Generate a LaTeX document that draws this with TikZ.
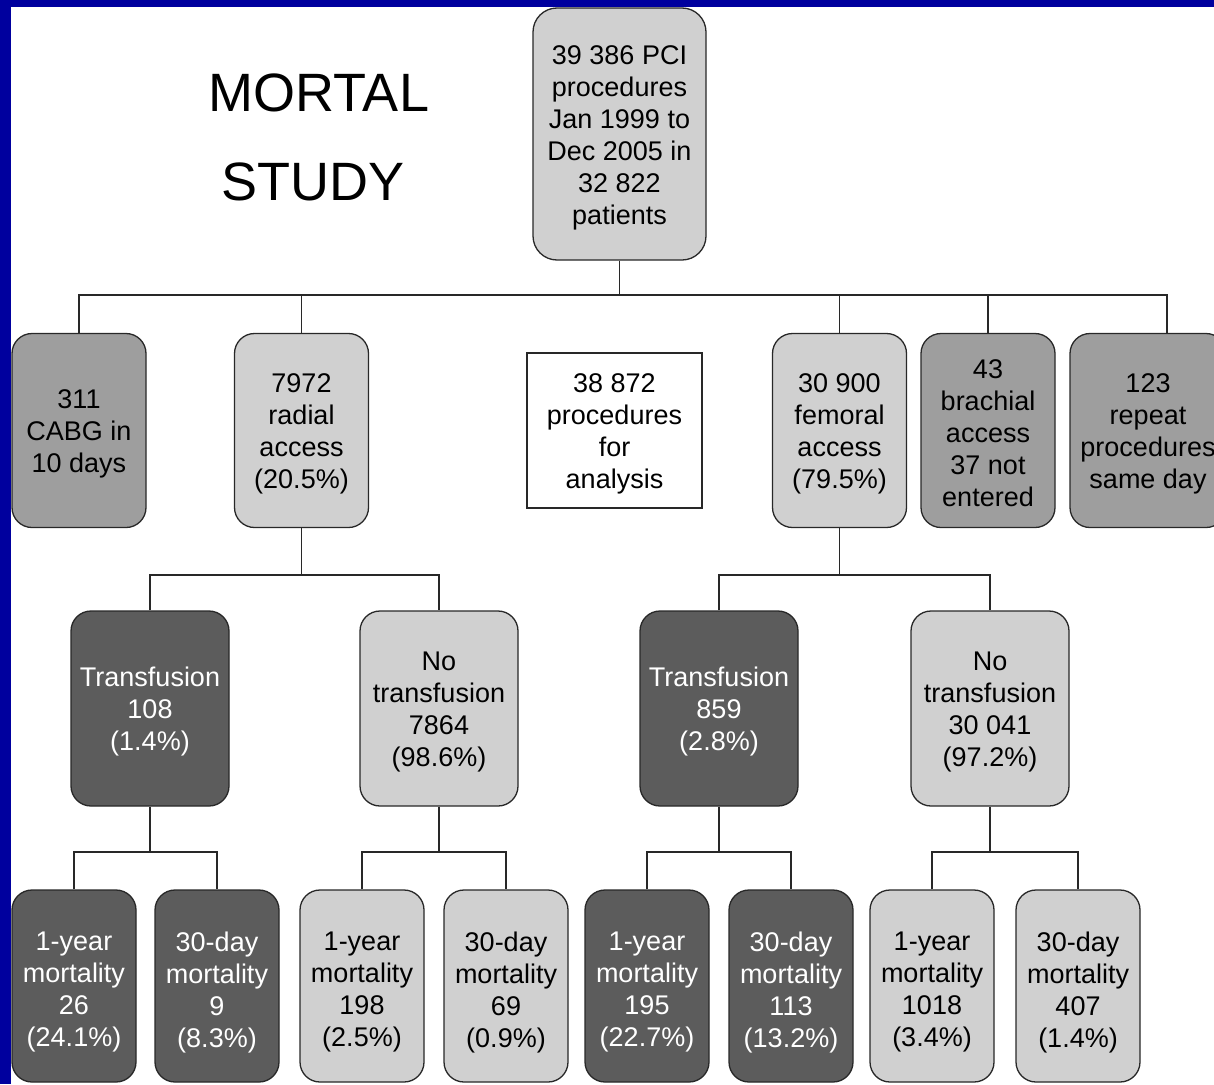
\documentclass[tikz,border=0pt]{standalone}
\usepackage{fontspec}
\setmainfont{Liberation Sans}
\definecolor{lightg}{RGB}{208,208,208}
\definecolor{midg}{RGB}{158,158,158}
\definecolor{darkg}{RGB}{92,92,92}
\definecolor{frameblue}{RGB}{0,0,158}
\definecolor{edge}{RGB}{40,40,40}
\begin{document}
\begin{tikzpicture}[x=1pt,y=-1pt,
  box/.style={draw=edge, line width=1.3pt, rounded corners=20pt, inner sep=0pt},
  light/.style={box, fill=lightg},
  mid/.style={box, fill=midg},
  dark/.style={box, fill=darkg},
  plain/.style={box, fill=white, rounded corners=0pt},
  txt/.style={align=center, inner sep=0pt, font=\fontsize{27}{32}\selectfont},
  wtxt/.style={txt, text=white},
  row2/.style={minimum width=134pt, minimum height=194pt},
  row3/.style={minimum width=158pt, minimum height=195pt},
  row4/.style={minimum width=124pt, minimum height=192pt},
  conn/.style={draw=edge, line width=1.3pt},
  title/.style={font=\fontsize{54}{60}\selectfont, anchor=base, inner sep=0pt}]
\useasboundingbox (0,0) rectangle (1214,1084);
\clip (0,0) rectangle (1214,1084);
\fill[white] (0,0) rectangle (1214,1084);

% title
\node[title] (t1) at (319,111) {MORTAL};
\node[title] (t2) at (313,200) {STUDY};

% top
\node[light, rounded corners=24pt, minimum width=173pt, minimum height=252pt] (top) at (619.5,134) {};
\node[txt] (topt) at ([yshift=-4pt]top.center) {39 386 PCI\\procedures\\Jan 1999 to\\Dec 2005 in\\32 822\\patients};

% row 2
\node[mid, row2] (cabg) at (79,430.5) {};
\node[txt] (cabgt) at ([yshift=-3pt]cabg.center) {311\\CABG in\\10 days};
\node[light, row2] (rad) at (301.5,430.5) {};
\node[txt] (radt) at ([yshift=-3pt]rad.center) {7972\\radial\\access\\(20.5\%)};
\node[plain, minimum width=175pt, minimum height=155pt] (ana) at (614.5,430.5) {};
\node[txt] (anat) at ([yshift=-3pt]ana.center) {38 872\\procedures\\for\\analysis};
\node[light, row2] (fem) at (839.5,430.5) {};
\node[txt] (femt) at ([yshift=-3pt]fem.center) {30 900\\femoral\\access\\(79.5\%)};
\node[mid, row2] (bra) at (988,430.5) {};
\node[txt] (brat) at ([yshift=-3pt]bra.center) {43\\brachial\\access\\37 not\\entered};
\node[mid, minimum width=156pt, minimum height=194pt] (rep) at (1148,430.5) {};
\node[txt] (rept) at ([yshift=-3pt]rep.center) {123\\repeat\\procedures\\same day};

% row 3
\node[dark, row3] (rtr) at (150,708.5) {};
\node[wtxt] (rtrt) at ([yshift=-3pt]rtr.center) {Transfusion\\108\\(1.4\%)};
\node[light, row3] (rnt) at (439,708.5) {};
\node[txt] (rntt) at ([yshift=-3pt]rnt.center) {No\\transfusion\\7864\\(98.6\%)};
\node[dark, row3] (ftr) at (719,708.5) {};
\node[wtxt] (ftrt) at ([yshift=-3pt]ftr.center) {Transfusion\\859\\(2.8\%)};
\node[light, row3] (fnt) at (990,708.5) {};
\node[txt] (fntt) at ([yshift=-3pt]fnt.center) {No\\transfusion\\30 041\\(97.2\%)};

% row 4
\node[dark, row4] (m1) at (74,986) {};
\node[wtxt] (m1t) at ([yshift=-6pt]m1.center) {1-year\\mortality\\26\\(24.1\%)};
\node[dark, row4] (m2) at (217,986) {};
\node[wtxt] (m2t) at ([yshift=-6pt]m2.center) {30-day\\mortality\\9\\(8.3\%)};
\node[light, row4] (m3) at (362,986) {};
\node[txt] (m3t) at ([yshift=-6pt]m3.center) {1-year\\mortality\\198\\(2.5\%)};
\node[light, row4] (m4) at (506,986) {};
\node[txt] (m4t) at ([yshift=-6pt]m4.center) {30-day\\mortality\\69\\(0.9\%)};
\node[dark, row4] (m5) at (647,986) {};
\node[wtxt] (m5t) at ([yshift=-6pt]m5.center) {1-year\\mortality\\195\\(22.7\%)};
\node[dark, row4] (m6) at (791,986) {};
\node[wtxt] (m6t) at ([yshift=-6pt]m6.center) {30-day\\mortality\\113\\(13.2\%)};
\node[light, row4] (m7) at (932,986) {};
\node[txt] (m7t) at ([yshift=-6pt]m7.center) {1-year\\mortality\\1018\\(3.4\%)};
\node[light, row4] (m8) at (1078,986) {};
\node[txt] (m8t) at ([yshift=-6pt]m8.center) {30-day\\mortality\\407\\(1.4\%)};

% connectors
\coordinate (hub) at (619.5,295);
\coordinate (rt) at (1167,295);
\draw[conn] (top.south) -- (hub);
\draw[conn] (cabg.north) |- (hub) -- (rt) -- (rt |- rep.north);
\draw[conn] (rad.north) -- (rad.north |- hub);
\draw[conn] (fem.north) -- (fem.north |- hub);
\draw[conn] (bra.north) -- (bra.north |- hub);

\coordinate (rh) at (301.5,575);
\draw[conn] (rad.south) -- (rh);
\draw[conn] (rtr.north) |- (rh) -| (rnt.north);
\coordinate (fh) at (839.5,575);
\draw[conn] (fem.south) -- (fh);
\draw[conn] (ftr.north) |- (fh) -| (fnt.north);

\coordinate (h1) at (150,852);
\draw[conn] (rtr.south) -- (h1);
\draw[conn] (m1.north) |- (h1) -| (m2.north);
\coordinate (h2) at (439,852);
\draw[conn] (rnt.south) -- (h2);
\draw[conn] (m3.north) |- (h2) -| (m4.north);
\coordinate (h3) at (719,852);
\draw[conn] (ftr.south) -- (h3);
\draw[conn] (m5.north) |- (h3) -| (m6.north);
\coordinate (h4) at (990,852);
\draw[conn] (fnt.south) -- (h4);
\draw[conn] (m7.north) |- (h4) -| (m8.north);

% blue frame
\fill[frameblue] (0,0) rectangle (11,1084);
\fill[frameblue] (0,0) rectangle (1214,7);
\end{tikzpicture}
\end{document}
